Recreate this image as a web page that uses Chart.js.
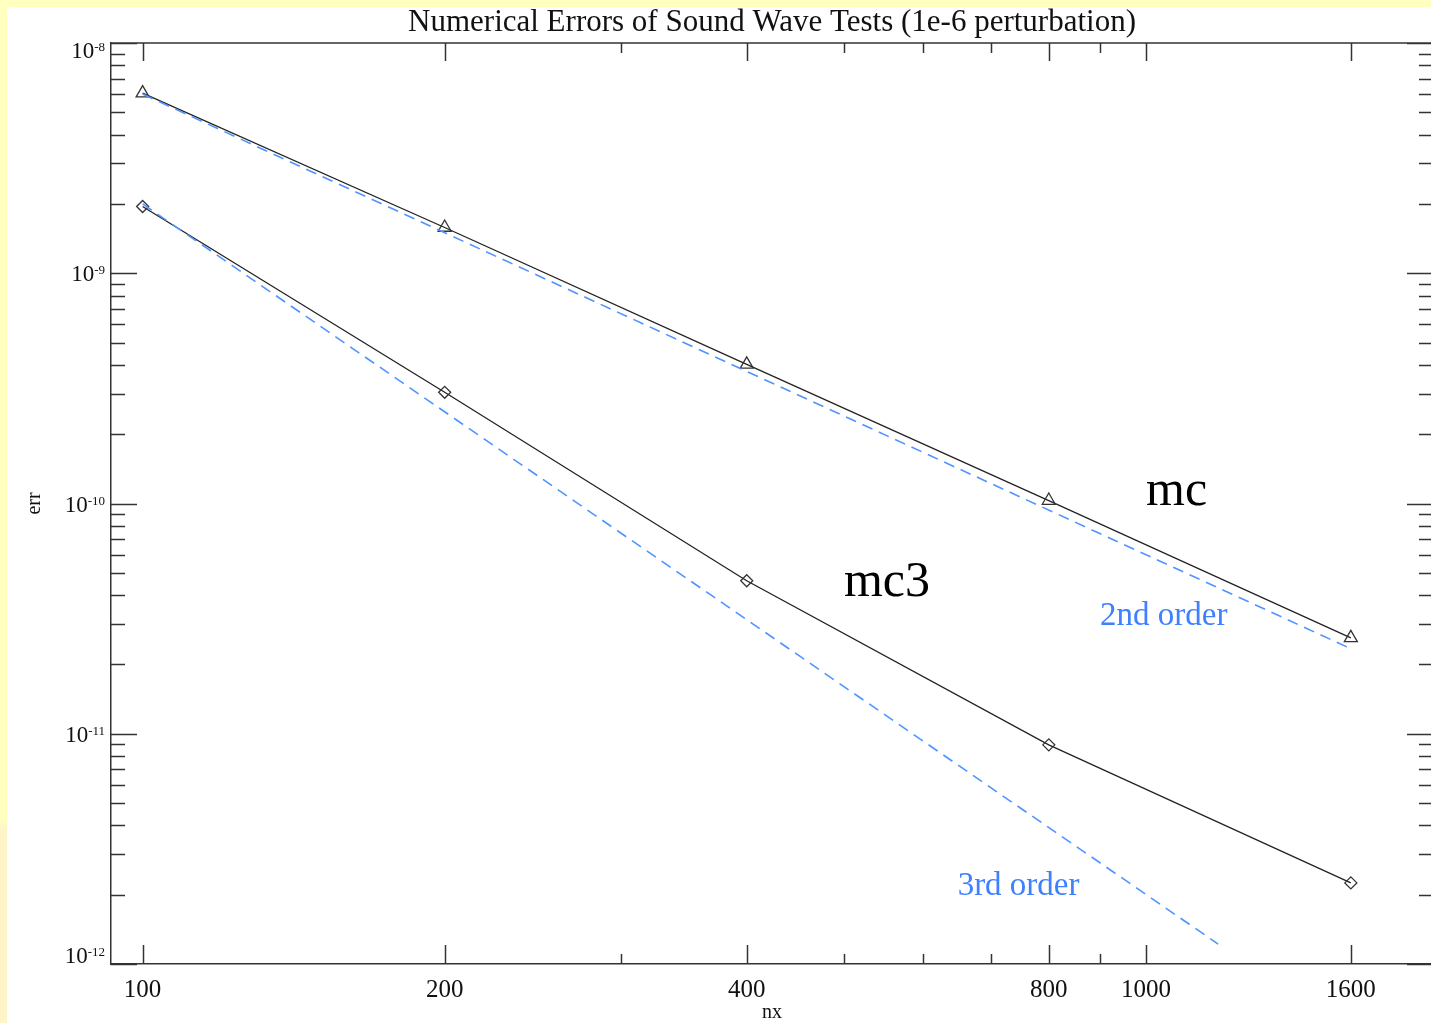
<!DOCTYPE html>
<html>
<head>
<meta charset="utf-8">
<script src="https://cdn.jsdelivr.net/npm/chart.js@4.4.1/dist/chart.umd.min.js"></script>
<style>
  html, body { margin: 0; padding: 0; width: 1431px; height: 1023px; overflow: hidden;
    background: linear-gradient(#ffffc0 0%, #ffffc0 80%, #fdf4c8 81%, #fdf4c8 100%); }
  #wrap { position: absolute; left: 7px; top: 7px; width: 1424px; height: 1016px; overflow: hidden; background: #fff; }
  #myChart { position: absolute; left: 0; top: 0; }
</style>
</head>
<body>
<div id="wrap"><canvas id="myChart" width="1428" height="1016"></canvas></div>
<script>
// measured runs
const nx = [100, 200, 400, 800, 1600];
const mcErr = [6.06e-9, 1.58e-9, 4.02e-10, 1.03e-10, 2.61e-11];
const mc3Err = [1.95e-9, 3.04e-10, 4.62e-11, 8.95e-12, 2.25e-12];

// reference slopes (dashed)
const order2Nx = [100, 1600];
const order2Err = [6.0e-9, 2.34e-11];
const order3Nx = [100, 1180];
const order3Err = [2.0e-9, 1.22e-12];

// axes
const xTicks = [100, 200, 300, 400, 500, 600, 700, 800, 900, 1000, 1600];
const xTickLabels = [100, 200, 400, 800, 1000, 1600];
const yTickExps = [-8, -9, -10, -11, -12];

// curve labels: [text, nx, err, colour, size]
const curveLabels = [
    ['mc', 1000, 9.9e-11, '#000', 50],
    ['mc3', 500, 3.97e-11, '#000', 50],
    ['2nd order', 900, 2.97e-11, '#3f80ff', 33],
    ['3rd order', 649, 2.0e-12, '#3f80ff', 33]
];

const serif = '"Liberation Serif", "DejaVu Serif", serif';
Chart.defaults.font.family = serif;
Chart.defaults.color = '#111';

function pts(xs, ys) {
    return xs.map((x, i) => ({x: x, y: ys[i]}));
}

// inward tick marks on all four sides, plus top/right frame
const frameTicks = {
    id: 'frameTicks',
    afterDatasetsDraw(chart) {
        const {ctx, chartArea: a, scales: {x, y}} = chart;
        ctx.save();
        ctx.strokeStyle = '#333';
        ctx.lineWidth = 1.5;
        ctx.beginPath();
        ctx.moveTo(a.left, a.top); ctx.lineTo(a.right, a.top); ctx.lineTo(a.right, a.bottom);
        xTicks.forEach(v => {
            const px = Math.round(x.getPixelForValue(v)) + 0.5;
            const major = xTickLabels.includes(v);
            ctx.moveTo(px, a.bottom); ctx.lineTo(px, a.bottom - (major ? 19 : 10));
            ctx.moveTo(px, a.top); ctx.lineTo(px, a.top + (major ? 18 : 10));
        });
        for (let e = -12; e <= -8; e++) {
            for (let m = 1; m <= 9; m++) {
                if (e === -8 && m > 1) break;
                const py = Math.round(y.getPixelForValue(m * Math.pow(10, e))) + 0.5;
                const len = m === 1 ? 26 : 14;
                ctx.moveTo(a.left, py); ctx.lineTo(a.left + len, py);
                ctx.moveTo(a.right, py); ctx.lineTo(a.right - len, py);
            }
        }
        ctx.stroke();
        ctx.restore();
    },
    afterDraw(chart) {
        const {ctx, chartArea: a, scales: {x, y}} = chart;
        ctx.save();
        ctx.fillStyle = '#111';
        // y labels 10^n with raised exponent
        yTickExps.forEach(e => {
            let py = y.getPixelForValue(Math.pow(10, e));
            py = Math.min(Math.max(py, a.top + 7), a.bottom - 9);
            const exp = String(e);
            ctx.font = '13px ' + serif;
            const ew = ctx.measureText(exp).width;
            const r = a.left - 6;
            ctx.textAlign = 'left';
            ctx.textBaseline = 'alphabetic';
            ctx.fillText(exp, r - ew, py + 1);
            ctx.font = '23px ' + serif;
            ctx.textAlign = 'right';
            ctx.fillText('10', r - ew, py + 8);
        });
        // curve labels
        curveLabels.forEach(([t, vx, vy, c, s]) => {
            ctx.font = s + 'px ' + serif;
            ctx.fillStyle = c;
            ctx.textAlign = 'left';
            ctx.textBaseline = 'alphabetic';
            ctx.fillText(t, x.getPixelForValue(vx), y.getPixelForValue(vy));
        });
        ctx.restore();
    }
};

const ctx = document.getElementById('myChart');

const myChart = new Chart(ctx, {
    type: 'line',
    data: {
        datasets: [{
            label: 'mc',
            data: pts(nx, mcErr),
            borderColor: '#222',
            borderWidth: 1.3,
            pointStyle: 'triangle',
            pointRadius: 7.5,
            pointBorderColor: '#333',
            pointBackgroundColor: 'rgba(255,255,255,0)',
            pointBorderWidth: 1.3,
            order: 2
        }, {
            label: 'mc3',
            data: pts(nx, mc3Err),
            borderColor: '#222',
            borderWidth: 1.3,
            pointStyle: 'rectRot',
            pointRadius: 6,
            pointBorderColor: '#333',
            pointBackgroundColor: 'rgba(255,255,255,0)',
            pointBorderWidth: 1.3,
            order: 2
        }, {
            label: '2nd order',
            data: pts(order2Nx, order2Err),
            borderColor: '#4f94ff',
            borderWidth: 1.6,
            borderDash: [11, 7],
            pointRadius: 0,
            order: 1
        }, {
            label: '3rd order',
            data: pts(order3Nx, order3Err),
            borderColor: '#4f94ff',
            borderWidth: 1.6,
            borderDash: [11, 7],
            pointRadius: 0,
            order: 1
        }]
    },
    options: {
        responsive: false,
        animation: false,
        layout: { autoPadding: false, padding: { right: 2, left: 0, top: 0, bottom: 0 } },
        plugins: {
            legend: { display: false },
            tooltip: { enabled: false },
            title: {
                display: true,
                text: 'Numerical Errors of Sound Wave Tests (1e-6 perturbation)',
                font: { size: 31, weight: 'normal', lineHeight: 1 },
                color: '#111',
                padding: { top: 0, bottom: 5 },
                fullSize: false
            }
        },
        scales: {
            x: {
                type: 'logarithmic',
                min: 93,
                max: 1932,
                afterBuildTicks: s => { s.ticks = xTicks.map(v => ({value: v})); },
                afterFit: s => { s.height = 59; s.paddingLeft = 0; s.paddingRight = 0; },
                grid: { display: false },
                border: { display: true, color: '#333', width: 1.5 },
                ticks: {
                    autoSkip: false,
                    maxRotation: 0,
                    padding: 3,
                    color: '#111',
                    font: { size: 25 },
                    callback: v => xTickLabels.includes(v) ? String(v) : ''
                },
                title: {
                    display: true,
                    text: 'nx',
                    color: '#111',
                    font: { size: 20, lineHeight: 1 },
                    padding: { top: 0, bottom: 0 }
                }
            },
            y: {
                type: 'logarithmic',
                min: 1e-12,
                max: 1e-8,
                afterFit: s => { s.width = 104; s.paddingTop = 0; s.paddingBottom = 0; },
                grid: { display: false },
                border: { display: true, color: '#333', width: 1.5 },
                ticks: { display: false },
                title: {
                    display: true,
                    text: 'err',
                    color: '#111',
                    font: { size: 20, lineHeight: 1 },
                    padding: { top: 18, bottom: 0 }
                }
            }
        }
    },
    plugins: [frameTicks]
});
</script>
</body>
</html>
